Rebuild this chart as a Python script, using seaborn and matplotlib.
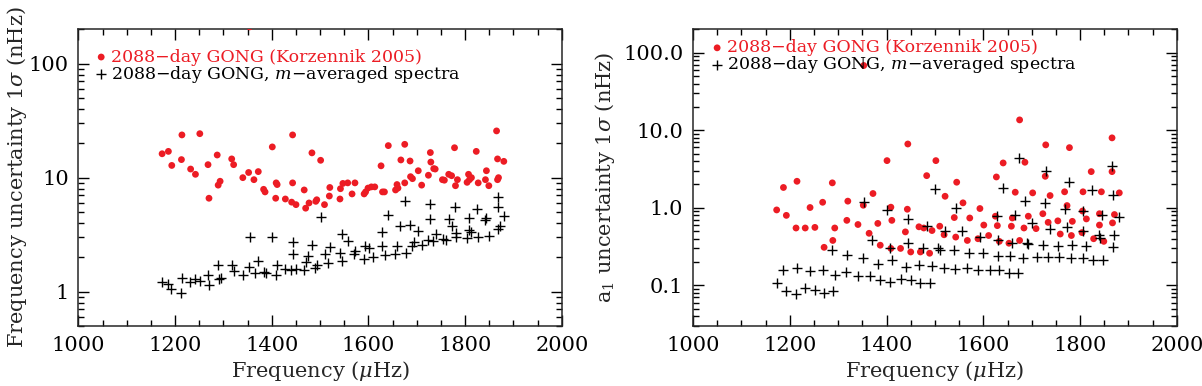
import matplotlib
matplotlib.use("Agg")
import matplotlib.pyplot as plt
import matplotlib.ticker as mticker
import seaborn as sns
import pandas as pd

# Left panel: frequency uncertainties (nHz)
left_red_freq = [1173, 1186, 1193, 1214, 1213, 1232, 1242, 1251, 1268, 1270,
                 1287, 1289, 1293, 1317, 1321, 1340, 1352, 1363, 1372, 1383,
                 1386, 1401, 1408, 1409, 1411, 1428, 1441, 1443, 1443, 1450,
                 1467, 1470, 1477, 1483, 1491, 1493, 1501, 1509, 1519, 1520,
                 1541, 1542, 1547, 1557, 1566, 1572, 1591, 1594, 1599, 1606,
                 1613, 1626, 1629, 1633, 1641, 1656, 1659, 1661, 1667, 1675,
                 1675, 1686, 1687, 1691, 1703, 1710, 1724, 1728, 1729, 1735,
                 1738, 1753, 1757, 1766, 1772, 1778, 1780, 1784, 1804, 1807,
                 1809, 1813, 1823, 1827, 1842, 1844, 1849, 1865, 1867, 1867,
                 1869, 1880, 1354]
left_red_err = [16.2, 17.0, 12.8, 23.7, 14.4, 11.9, 10.7, 24.3, 13.0, 6.6,
                15.8, 8.6, 9.3, 14.6, 13.0, 10.0, 11.1, 9.6, 11.3, 7.9,
                7.5, 18.6, 6.6, 9.0, 8.7, 6.5, 6.1, 23.7, 9.0, 5.8,
                7.8, 5.4, 6.0, 16.5, 6.2, 6.4, 14.2, 5.8, 6.9, 8.2,
                6.5, 8.0, 8.9, 9.0, 7.2, 9.0, 7.2, 7.5, 8.1, 8.3,
                8.3, 12.7, 7.5, 7.5, 19.1, 7.8, 8.7, 8.1, 14.3, 19.6,
                9.0, 14.0, 10.2, 9.8, 11.5, 8.6, 10.5, 16.6, 13.7, 12.0,
                11.9, 9.6, 9.5, 10.7, 10.4, 18.3, 8.5, 9.6, 9.1, 10.7,
                9.6, 10.0, 17.0, 9.0, 9.6, 11.5, 8.5, 25.7, 14.6, 9.6,
                10.0, 13.9, 210]

left_blk_freq = [1173, 1186, 1192, 1213, 1215, 1231, 1242, 1251, 1268, 1271,
                 1288, 1290, 1295, 1317, 1321, 1341, 1352, 1355, 1365, 1372,
                 1384, 1388, 1401, 1408, 1411, 1428, 1439, 1444, 1444, 1450,
                 1467, 1470, 1475, 1484, 1489, 1493, 1502, 1509, 1517, 1520,
                 1542, 1545, 1546, 1558, 1569, 1572, 1590, 1593, 1602, 1610,
                 1627, 1627, 1634, 1641, 1655, 1660, 1665, 1676, 1678, 1686,
                 1691, 1695, 1703, 1710, 1724, 1728, 1728, 1733, 1739, 1755,
                 1760, 1767, 1772, 1779, 1781, 1782, 1803, 1807, 1808, 1812,
                 1824, 1827, 1842, 1844, 1850, 1867, 1867, 1873, 1869, 1881]
left_blk_err = [1.21, 1.17, 1.05, 0.98, 1.33, 1.22, 1.29, 1.23, 1.40, 1.14,
                1.73, 1.28, 1.31, 1.70, 1.52, 1.40, 1.66, 3.00, 1.47, 1.85,
                1.50, 1.45, 3.02, 1.39, 1.72, 1.58, 1.56, 2.72, 2.13, 1.57,
                1.55, 1.83, 2.05, 2.57, 1.60, 1.72, 4.52, 2.12, 1.79, 2.46,
                2.19, 1.85, 3.23, 2.77, 2.12, 2.27, 1.94, 2.54, 2.41, 2.02,
                3.37, 2.50, 2.08, 4.67, 2.12, 2.50, 3.80, 6.19, 2.19, 3.87,
                2.54, 2.72, 3.39, 2.56, 2.83, 5.87, 4.34, 2.77, 3.21, 2.92,
                2.86, 4.34, 3.75, 5.49, 3.00, 3.27, 2.96, 4.43, 3.50, 3.32,
                5.31, 3.02, 4.28, 4.46, 3.06, 6.76, 5.49, 3.75, 3.55, 4.58]

# Right panel: a1 uncertainties (nHz)
right_red_freq = [1173, 1187, 1193, 1215, 1213, 1232, 1242, 1252, 1268, 1271,
                  1288, 1289, 1293, 1318, 1320, 1341, 1352, 1372, 1364, 1382,
                  1387, 1401, 1409, 1411, 1409, 1429, 1439, 1443, 1444, 1450,
                  1467, 1470, 1477, 1483, 1489, 1494, 1502, 1510, 1521, 1519,
                  1545, 1558, 1540, 1572, 1543, 1567, 1593, 1601, 1589, 1611,
                  1629, 1627, 1641, 1633, 1653, 1658, 1660, 1666, 1675, 1675,
                  1684, 1686, 1693, 1702, 1709, 1723, 1728, 1729, 1734, 1738,
                  1754, 1759, 1768, 1773, 1778, 1782, 1784, 1804, 1806, 1813,
                  1823, 1828, 1840, 1844, 1849, 1867, 1866, 1866, 1871, 1881,
                  1805, 1625, 1840, 1353]
right_red_err = [0.94, 1.83, 0.80, 2.20, 0.55, 0.55, 1.01, 0.56, 1.18, 0.31,
                 2.10, 0.38, 0.55, 0.69, 1.22, 0.61, 1.08, 1.53, 0.47, 0.63,
                 0.33, 4.06, 1.02, 0.69, 0.30, 0.30, 0.49, 0.96, 6.65, 0.27,
                 0.57, 0.27, 0.55, 2.60, 0.26, 0.51, 4.06, 0.58, 1.41, 0.45,
                 2.14, 1.16, 0.75, 0.74, 0.42, 0.38, 0.98, 0.60, 0.40, 0.44,
                 0.59, 2.50, 3.79, 0.37, 0.35, 0.58, 0.74, 1.59, 13.6, 0.38,
                 0.55, 3.87, 0.78, 1.56, 0.54, 0.84, 2.55, 6.48, 0.65, 1.44,
                 0.68, 0.46, 1.61, 1.07, 5.97, 0.44, 0.67, 0.48, 1.61, 0.72,
                 2.93, 0.40, 0.60, 1.61, 0.37, 0.64, 2.93, 7.98, 0.82, 1.56,
                 0.91, 0.78, 0.84, 68.3]

right_blk_freq = [1173, 1192, 1213, 1232, 1252, 1271, 1290,
                  1187, 1214, 1241, 1268, 1293, 1288,
                  1354, 1402, 1444, 1483, 1500,
                  1371, 1407, 1444, 1476, 1507,
                  1319, 1351, 1382, 1411, 1440, 1467, 1493,
                  1316, 1342, 1365, 1387, 1407, 1430, 1450, 1469, 1489,
                  1640, 1686, 1544, 1628, 1666,
                  1521, 1557, 1593, 1630, 1660, 1690,
                  1511, 1540, 1571, 1600, 1630, 1655, 1683,
                  1519, 1542, 1567, 1589, 1613, 1633, 1654, 1672,
                  1729, 1778, 1865, 1824, 1867,
                  1728, 1768, 1805, 1845, 1881,
                  1701, 1738, 1772, 1805, 1839, 1871,
                  1693, 1724, 1754, 1784, 1812, 1841, 1867,
                  1710, 1733, 1757, 1781, 1805, 1827, 1848, 1674]
right_blk_err = [0.107, 0.086, 0.078, 0.093, 0.087, 0.080, 0.084,
                 0.160, 0.169, 0.152, 0.159, 0.138, 0.284,
                 1.18, 0.95, 0.72, 0.58, 1.76,
                 0.38, 0.305, 0.354, 0.305, 0.30,
                 0.25, 0.227, 0.19, 0.21, 0.174, 0.186, 0.177,
                 0.148, 0.134, 0.131, 0.119, 0.112, 0.122, 0.116, 0.108, 0.108,
                 1.81, 1.22, 1.0, 0.78, 0.80,
                 0.50, 0.50, 0.42, 0.38, 0.354, 0.354,
                 0.29, 0.29, 0.263, 0.263, 0.243, 0.238, 0.227,
                 0.169, 0.163, 0.169, 0.157, 0.157, 0.157, 0.145, 0.145,
                 2.96, 2.14, 3.44, 1.69, 1.48,
                 1.16, 0.98, 0.90, 0.82, 0.76,
                 0.63, 0.54, 0.57, 0.51, 0.45, 0.45,
                 0.347, 0.336, 0.327, 0.336, 0.327, 0.41, 0.314,
                 0.234, 0.234, 0.234, 0.227, 0.227, 0.211, 0.211, 4.4]

x_ticks = [1000, 1200, 1400, 1600, 1800, 2000]
left_yticks = [1, 10, 100]
left_ylabels = ["1", "10", "100"]
right_yticks = [0.1, 1, 10, 100]
right_ylabels = ["0.1", "1.0", "10.0", "100.0"]

RED = "#ec1c24"
label_red = "2088\u2212day GONG (Korzennik 2005)"
label_blk = "2088\u2212day GONG, $m$\u2212averaged spectra"

sns.set_style("ticks")
plt.rcParams["font.family"] = ["DejaVu Serif"]
plt.rcParams["mathtext.fontset"] = "dejavuserif"
plt.rcParams["axes.linewidth"] = 1.1


def style_axis(ax, ylim, yticks, ylabels, ylabel, legend_anchor, ypad):
    ax.set_xlim(1000, 2000)
    ax.set_yscale("log")
    ax.set_ylim(*ylim)
    ax.xaxis.set_major_locator(mticker.FixedLocator(x_ticks))
    ax.xaxis.set_minor_locator(mticker.MultipleLocator(50))
    ax.yaxis.set_major_locator(mticker.FixedLocator(yticks))
    ax.yaxis.set_major_formatter(mticker.FixedFormatter(ylabels))
    ax.yaxis.set_minor_locator(mticker.LogLocator(base=10, subs=range(2, 10), numticks=20))
    ax.yaxis.set_minor_formatter(mticker.NullFormatter())
    ax.tick_params(which="both", direction="in", top=True, right=True,
                   labelsize=15, width=1, colors="black")
    ax.tick_params(which="major", length=8, pad=7)
    ax.tick_params(which="minor", length=4)
    ax.set_xlabel("Frequency ($\\mu$Hz)", fontsize=15, labelpad=3)
    ax.set_ylabel(ylabel, fontsize=15, labelpad=ypad)
    ax.legend(loc="upper left", bbox_to_anchor=legend_anchor,
              frameon=False, fontsize=12.5, handlelength=0.5, handletextpad=0.3,
              labelspacing=-0.12, borderpad=0, borderaxespad=0,
              labelcolor=[RED, "black"], markerscale=1.0)


fig = plt.figure(figsize=(12.02, 3.86), dpi=100)
ax1 = fig.add_axes([0.0653, 0.1554, 0.4021, 0.7687])
ax2 = fig.add_axes([0.5765, 0.1554, 0.4026, 0.7687])

panels = [
    (ax1, left_red_freq, left_red_err, left_blk_freq, left_blk_err,
     (0.5, 200), left_yticks, left_ylabels, "Frequency uncertainty 1$\\sigma$ (nHz)",
     (0.038, 0.935), 0),
    (ax2, right_red_freq, right_red_err, right_blk_freq, right_blk_err,
     (0.03, 200), right_yticks, right_ylabels, "a$_1$ uncertainty 1$\\sigma$ (nHz)",
     (0.041, 0.966), 4),
]

for ax, rf, re_, bf, be, ylim, yt, yl, ylab, anchor, ypad in panels:
    red_df = pd.DataFrame({"freq": rf, "err": re_})
    blk_df = pd.DataFrame({"freq": bf, "err": be})
    sns.scatterplot(data=red_df, x="freq", y="err", ax=ax, color=RED, marker="o",
                    s=24, edgecolor="none", label=label_red, zorder=3)
    sns.scatterplot(data=blk_df, x="freq", y="err", ax=ax, color="black", marker="+",
                    s=55, linewidth=1.0, label=label_blk, zorder=4)
    style_axis(ax, ylim, yt, yl, ylab, anchor, ypad)

fig.savefig("out.png", dpi=100)
